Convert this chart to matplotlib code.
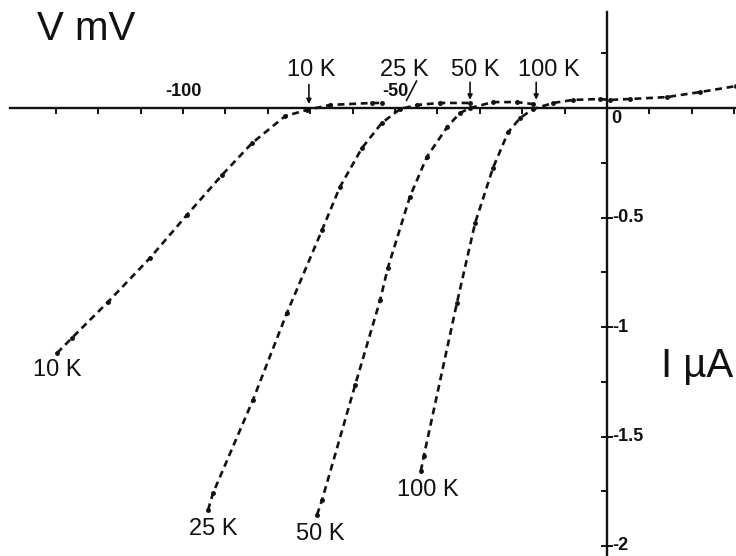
import numpy as np
import matplotlib
matplotlib.use("Agg")
import matplotlib.pyplot as plt

plt.rcParams['font.family'] = ['Liberation Sans', 'DejaVu Sans']

v_10k = [-129.7, -126.2, -117.7, -107.8, -99.1, -90.8, -83.7, -75.9, -70.8, -65.3, -55.4, -53.1]
i_10k = [-1.119, -1.050, -0.886, -0.685, -0.489, -0.306, -0.160, -0.037, -0.009, 0.014, 0.023, 0.023]

v_25k = [-94.1, -92.9, -83.5, -75.5, -67.2, -63.0, -57.8, -53.1, -48.8, -44.8, -39.4, -32.3]
i_25k = [-1.836, -1.758, -1.333, -0.936, -0.557, -0.361, -0.183, -0.068, -0.005, 0.014, 0.023, 0.023]

v_50k = [-68.4, -67.2, -59.4, -53.5, -51.7, -46.5, -42.5, -37.7, -34.7, -32.3, -26.9, -21.2, -17.5]
i_50k = [-1.858, -1.790, -1.265, -0.877, -0.731, -0.406, -0.224, -0.087, -0.023, 0.0, 0.027, 0.027, 0.018]

v_100k = [-43.9, -43.2, -35.4, -31.1, -26.9, -23.3, -20.5, -17.5, -12.7, -8.0, -1.7, 0.7, 5.4, 14.2, 22.0, 30.4]
i_100k = [-1.658, -1.589, -0.890, -0.525, -0.274, -0.110, -0.046, -0.005, 0.023, 0.037, 0.041, 0.037, 0.041, 0.050, 0.073, 0.100]

curves = [(v_10k, i_10k), (v_25k, i_25k), (v_50k, i_50k), (v_100k, i_100k)]
temps = ["10 K", "25 K", "50 K", "100 K"]

x_ticklabels = {-100: "-100", -50: "-50", 0: "0"}
y_ticklabels = {-0.5: "-0.5", -1: "-1", -1.5: "-1.5", -2: "-2"}

# --- figure with the axes filling the whole canvas ---
fig = plt.figure(figsize=(7.36, 5.56), dpi=100)
ax = fig.add_axes([0, 0, 1, 1])
ax.set_xlim(-607 / 4.24, 129 / 4.24)
ax.set_ylim((108 - 556) / 219, 108 / 219)

ink = '#111111'
for s in ['top', 'right']:
    ax.spines[s].set_visible(False)
ax.spines['left'].set_position(('data', 0))
ax.spines['bottom'].set_position(('data', 0))
ax.spines['bottom'].set_bounds(-140.8, 31)
ax.spines['left'].set_bounds(-2.1, 0.44)
for s in ['left', 'bottom']:
    ax.spines[s].set_linewidth(1.7)
    ax.spines[s].set_color(ink)

ax.set_xticks(np.arange(-130, 31, 10))
ax.set_xticklabels([])
ax.set_yticks(list(y_ticklabels.keys()))
ax.set_yticklabels([])
ax.set_yticks([-1.75, -1.25, -0.75, -0.25, 0.25], minor=True)
ax.tick_params(axis='x', direction='out', length=4, width=1.4, color=ink)
ax.tick_params(axis='y', which='major', direction='inout', length=9, width=1.4, color=ink)
ax.tick_params(axis='y', which='minor', direction='out', length=4, width=1.4, color=ink)

# --- curves ---
for v, i in curves:
    ax.plot(v, i, color=ink, lw=1.9, ls=(0, (2.6, 1.8)), marker='.', ms=5)

# --- tick labels ---
for xv, lab in x_ticklabels.items():
    if xv == 0:
        ax.text(xv + 1.0, -0.05, lab, fontsize=13, fontweight='bold', ha='left', va='center', color=ink)
    else:
        ax.text(xv, 0.075, lab, fontsize=13, fontweight='bold', ha='center', va='center', color=ink)
for yv, lab in y_ticklabels.items():
    ax.text(1.2, yv, lab, fontsize=13, fontweight='bold', ha='left', va='center', color=ink)

# --- axis names ---
ax.text(-122.9, 0.361, "V mV", fontsize=29, ha='center', va='center', color=ink)
ax.text(21.2, -1.178, "I \u00b5A", fontsize=29, ha='center', va='center', color=ink)

# --- curve labels at the lower ends ---
low_pos = [(-129.7, -1.196), (-92.9, -1.922), (-67.7, -1.945), (-42.2, -1.744)]
for (x, y), t in zip(low_pos, temps):
    ax.text(x, y, t, fontsize=17, ha='center', va='center', color=ink)

# --- labels with arrows at the top ---
top_pos = [-69.8, -47.9, -31.1, -13.7]
arrow_from = [(-70.3, 0.12), (-44.6, 0.135), (-32.3, 0.13), (-16.7, 0.13)]
arrow_to = [(-70.3, 0.005), (-47.6, 0.023), (-32.3, 0.025), (-16.7, 0.025)]
for x, t in zip(top_pos, temps):
    ax.text(x, 0.174, t, fontsize=17, ha='center', va='center', color=ink)
for k, (p0, p1) in enumerate(zip(arrow_from, arrow_to)):
    style = '-' if k == 1 else '-|>'
    ax.annotate('', xy=p1, xytext=p0,
                arrowprops=dict(arrowstyle=style, color=ink, lw=1.2, mutation_scale=7))

fig.savefig("out.png", dpi=100)
